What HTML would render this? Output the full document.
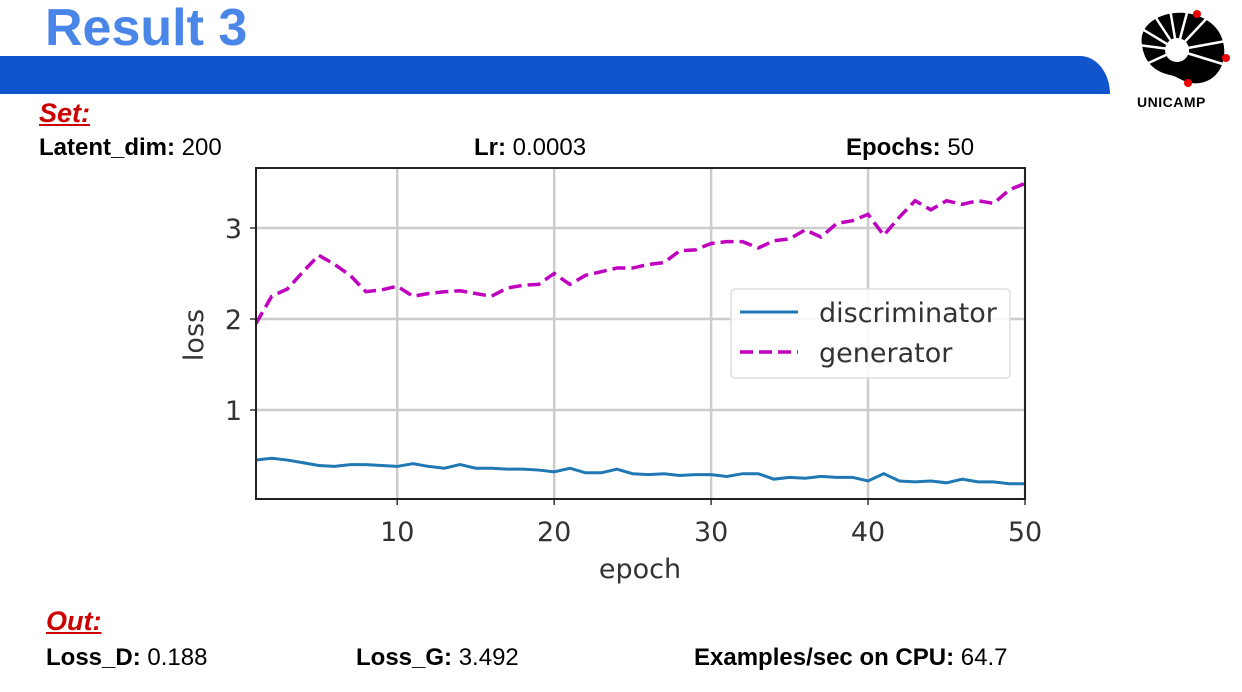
<!DOCTYPE html>
<html><head><meta charset="utf-8"><style>
body{margin:0;width:1242px;height:692px;background:#fff;position:relative;overflow:hidden;font-family:"Liberation Sans",Arial,sans-serif}
.t{position:absolute;white-space:nowrap}
</style></head><body>
<div class="t" style="left:45px;top:-2px;font-size:52px;font-weight:bold;color:#4a86e8">Result 3</div>
<div style="position:absolute;left:0;top:56px;width:1110px;height:38px;background:#1155cc;border-top-right-radius:30px 38px"></div>
<svg style="position:absolute;left:1130px;top:5px" width="110" height="85" viewBox="0 0 110 85">
<path d="M12,40 C8,20 30,6 55,8 C75,10 92,22 94,42 C96,58 88,75 70,78 C55,80 50,72 40,70 C22,66 14,55 12,40 Z" fill="#000"/>
<circle cx="47" cy="45" r="12" fill="#fff"/>
<g stroke="#fff" stroke-width="2.5"><line x1="47" y1="45" x2="8" y2="40"/><line x1="47" y1="45" x2="12" y2="24"/><line x1="47" y1="45" x2="24" y2="10"/><line x1="47" y1="45" x2="40" y2="4"/><line x1="47" y1="45" x2="58" y2="4"/><line x1="47" y1="45" x2="78" y2="12"/><line x1="47" y1="45" x2="96" y2="36"/><line x1="47" y1="45" x2="96" y2="60"/><line x1="47" y1="45" x2="14" y2="60"/></g>
<circle cx="67" cy="9" r="4" fill="#e00"/><circle cx="96" cy="53" r="4" fill="#e00"/><circle cx="58" cy="78" r="4" fill="#e00"/></svg>
<div class="t" style="left:1137px;top:94px;font-size:14px;font-weight:bold;letter-spacing:0.5px">UNICAMP</div>
<div class="t" style="left:39px;top:98px;font-size:27px;font-weight:bold;font-style:italic;text-decoration:underline;color:#c00">Set:</div>
<div class="t" style="left:39px;top:134px;font-size:24px"><b>Latent_dim:</b> 200</div>
<div class="t" style="left:474px;top:134px;font-size:24px"><b>Lr:</b> 0.0003</div>
<div class="t" style="left:846px;top:134px;font-size:24px"><b>Epochs:</b> 50</div>
<div class="t" style="left:46px;top:606px;font-size:27px;font-weight:bold;font-style:italic;text-decoration:underline;color:#c00">Out:</div>
<div class="t" style="left:46px;top:644px;font-size:24px"><b>Loss_D:</b> 0.188</div>
<div class="t" style="left:356px;top:644px;font-size:24px"><b>Loss_G:</b> 3.492</div>
<div class="t" style="left:694px;top:644px;font-size:24px"><b>Examples/sec on CPU:</b> 64.7</div>
<svg id="chart" style="position:absolute;left:0;top:0" width="1242" height="692" font-family="DejaVu Sans, sans-serif"></svg>
<script>
const epochs=[];for(let i=1;i<=50;i++)epochs.push(i);
const genLoss=[1.95,2.25,2.33,2.52,2.7,2.6,2.48,2.3,2.32,2.36,2.25,2.28,2.3,2.31,2.28,2.25,2.34,2.37,2.38,2.5,2.38,2.48,2.52,2.56,2.56,2.6,2.62,2.75,2.76,2.83,2.85,2.85,2.78,2.86,2.88,2.98,2.9,3.05,3.08,3.15,2.92,3.12,3.3,3.2,3.3,3.26,3.3,3.27,3.42,3.49];
const discLoss=[0.45,0.47,0.45,0.42,0.39,0.38,0.4,0.4,0.39,0.38,0.41,0.38,0.36,0.4,0.36,0.36,0.35,0.35,0.34,0.32,0.36,0.31,0.31,0.35,0.3,0.29,0.3,0.28,0.29,0.29,0.27,0.3,0.3,0.24,0.26,0.25,0.27,0.26,0.26,0.22,0.3,0.22,0.21,0.22,0.2,0.24,0.21,0.21,0.19,0.19];
const xTicks=[10,20,30,40,50];
const yTicks=[1,2,3];
const L=256,R=1025,T=168,B=499;
const X=v=>L+(v-1)*(R-L)/49;
const Y=v=>501-v*91;
const svg=document.getElementById('chart');const NS='http://www.w3.org/2000/svg';
function mk(tag,a,p){const e=document.createElementNS(NS,tag);for(const k in a)e.setAttribute(k,a[k]);(p||svg).appendChild(e);return e;}
xTicks.forEach(v=>{const g=mk('line',{x1:X(v),x2:X(v),y1:T,y2:B,stroke:'#ccc','stroke-width':2.5});

mk('line',{x1:X(v),x2:X(v),y1:B,y2:B+6,stroke:'#333','stroke-width':1.5});
const t=mk('text',{x:X(v),y:541,'text-anchor':'middle','font-size':27,fill:'#333'});t.textContent=v;
});
yTicks.forEach(v=>{const g=mk('line',{x1:L,x2:R,y1:Y(v),y2:Y(v),stroke:'#ccc','stroke-width':2.5});

mk('line',{x1:L-6,x2:L,y1:Y(v),y2:Y(v),stroke:'#333','stroke-width':1.5});
const t=mk('text',{x:L-14,y:Y(v)+10,'text-anchor':'end','font-size':27,fill:'#333'});t.textContent=v;
});
const d=mk('polyline',{points:epochs.map((e,i)=>X(e)+','+Y(discLoss[i])).join(' '),fill:'none',stroke:'#1f77b4','stroke-width':3});

const g=mk('polyline',{points:epochs.map((e,i)=>X(e)+','+Y(genLoss[i])).join(' '),fill:'none',stroke:'#bf00bf','stroke-width':3.5,'stroke-dasharray':'13 6'});

const f=mk('rect',{x:L,y:T,width:R-L,height:B-T,fill:'none',stroke:'#222','stroke-width':2});

const lg=mk('g',{});
mk('rect',{x:731,y:289,width:279,height:89,rx:4,fill:'#fff','fill-opacity':0.85,stroke:'#ddd','stroke-width':1.5},lg);
mk('line',{x1:740,x2:798,y1:312,y2:312,stroke:'#1f77b4','stroke-width':3},lg);
mk('line',{x1:740,x2:798,y1:352,y2:352,stroke:'#bf00bf','stroke-width':3.5,'stroke-dasharray':'13 6'},lg);
let t=mk('text',{x:819,y:322,'font-size':27,fill:'#333'},lg);t.textContent='discriminator';
t=mk('text',{x:819,y:362,'font-size':27,fill:'#333'},lg);t.textContent='generator';
t=mk('text',{x:640,y:578,'text-anchor':'middle','font-size':27,fill:'#333'});t.textContent='epoch';

t=mk('text',{x:203,y:335,'text-anchor':'middle','font-size':27,fill:'#333',transform:'rotate(-90 203 335)'});t.textContent='loss';

</script>
</body></html>
